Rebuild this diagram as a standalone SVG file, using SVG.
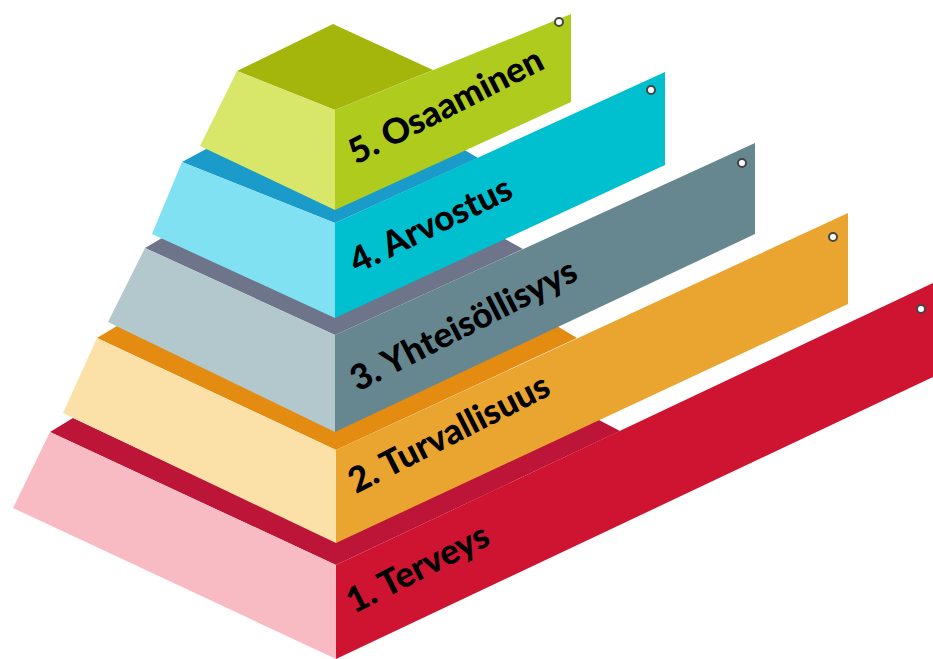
<svg xmlns="http://www.w3.org/2000/svg" width="933" height="659" viewBox="0 0 933 659">
<style>
.lbl{font-family:Lato,"Open Sans","Liberation Sans",sans-serif;font-weight:900;font-size:35px;fill:#000}
.dot{fill:#fff;stroke:#444;stroke-width:2}
</style>
<rect width="933" height="659" fill="#fff"/>
<g id="level1">
<polygon points="50,432 73,418 335,541 597,419 620,431 336,565" fill="#BC1537"/>
<polygon points="50,432 336,565 336,659 13,508" fill="#F8BBC4"/>
<polygon points="336,565 933,283 933,377 336,659" fill="#CF1432"/>
<circle class="dot" cx="921" cy="309" r="4"/>
<text class="lbl" transform="translate(354,614) rotate(-27)">1. Terveys</text>
</g>
<g id="level2">
<polygon points="97,338 117,326 335,430 557,326 577,338 336,450" fill="#E48B12"/>
<polygon points="97,338 336,450 336,543 63,413" fill="#FBE1A7"/>
<polygon points="336,450 848,213 848,304 336,543" fill="#EAA531"/>
<circle class="dot" cx="833" cy="237" r="4"/>
<text class="lbl" transform="translate(356,494) rotate(-27)">2. Turvallisuus</text>
</g>
<g id="level3">
<polygon points="145,248 162,238 335,316 503,238 523,249 335,335" fill="#6E7489"/>
<polygon points="145,248 335,335 335,432 108,322" fill="#B2C8CD"/>
<polygon points="335,335 755,143 755,234 335,432" fill="#668790"/>
<circle class="dot" cx="742" cy="163" r="4"/>
<text class="lbl" transform="translate(358,392) rotate(-27)">3. Yhteisöllisyys</text>
</g>
<g id="level4">
<polygon points="182,162 208,148 335,208 463,149 478,158 335,223" fill="#1B9BC9"/>
<polygon points="182,162 335,223 335,318 152,234" fill="#7FE1F2"/>
<polygon points="335,223 665,72 665,165 335,318" fill="#00BFCF"/>
<circle class="dot" cx="651" cy="90" r="4"/>
<text class="lbl" transform="translate(357,274) rotate(-26)">4. Arvostus</text>
</g>
<g id="level5">
<polygon points="237,71 333,24 433,70 335,110" fill="#A4B60C"/>
<polygon points="237,71 335,110 335,210 200,146" fill="#D8E76A"/>
<polygon points="335,110 571,14 571,102 335,210" fill="#AFCB1D"/>
<circle class="dot" cx="559" cy="22" r="4"/>
<text class="lbl" transform="translate(356,165) rotate(-27)">5. Osaaminen</text>
</g>
<g id="connectors"/>
</svg>
